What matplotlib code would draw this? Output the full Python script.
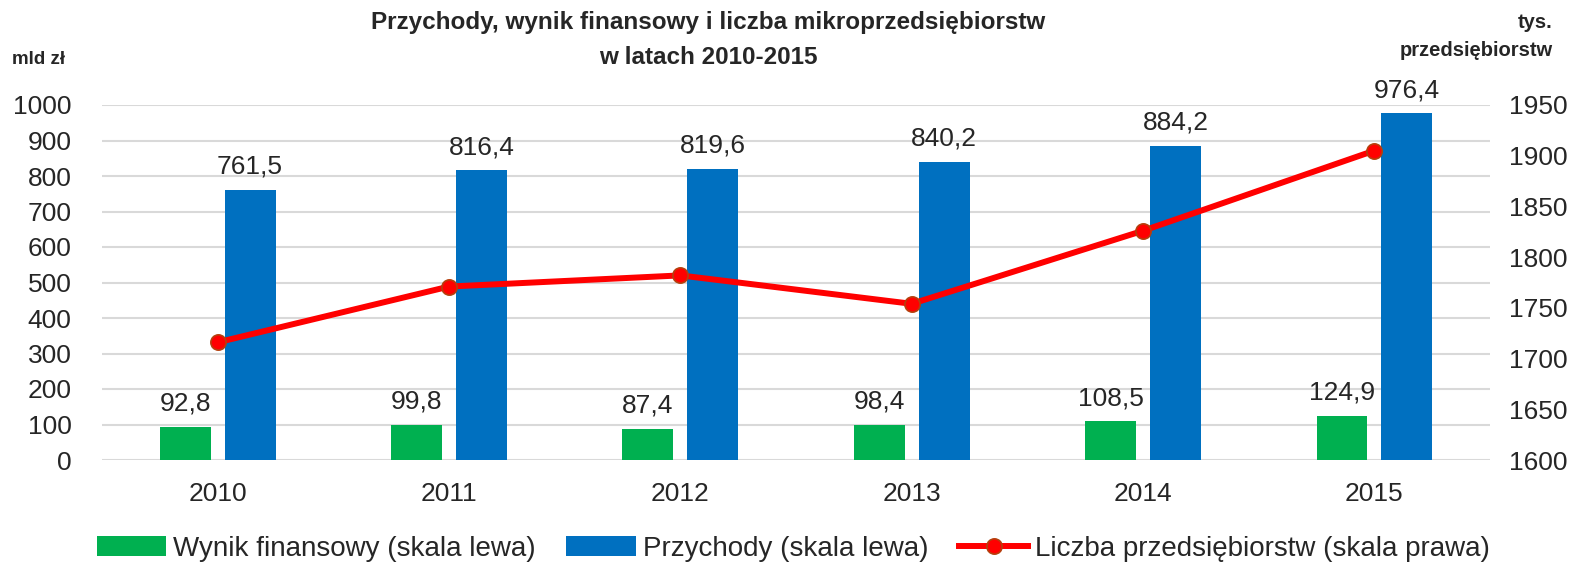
import numpy as np
import matplotlib.pyplot as plt

plt.rcParams['font.family'] = ['Liberation Sans', 'DejaVu Sans']

years = ["2010", "2011", "2012", "2013", "2014", "2015"]
wynik = [92.8, 99.8, 87.4, 98.4, 108.5, 124.9]
przychody = [761.5, 816.4, 819.6, 840.2, 884.2, 976.4]
liczba = [1716, 1771, 1782, 1754, 1826, 1905]

green = "#00b050"
blue = "#0070c0"
txt = "#262626"

fig = plt.figure(figsize=(15.87, 5.64), dpi=100)
ax = fig.add_axes([102 / 1587, 1 - 460 / 564, (1490 - 102) / 1587, (460 - 105) / 564])
ax2 = ax.twinx()

x = np.arange(len(years))
w = 0.22
b1 = ax.bar(x - 0.14, wynik, w, color=green, label="Wynik finansowy (skala lewa)", zorder=2)
b2 = ax.bar(x + 0.14, przychody, w, color=blue, label="Przychody (skala lewa)", zorder=2)

for rect, v in list(zip(b1, wynik)) + list(zip(b2, przychody)):
    ax.annotate(f"{v:.1f}".replace(".", ","),
                (rect.get_x() + rect.get_width() / 2, rect.get_height()),
                xytext=(0, 8), textcoords="offset points",
                ha="center", va="bottom", fontsize=19, color=txt, clip_on=False)

ln, = ax2.plot(x, liczba, color="#ff0000", lw=4.3, marker="o", ms=11,
               mfc="#ff0000", mec="#b5400e", mew=1.2,
               label="Liczba przedsiębiorstw (skala prawa)", zorder=3)

ax.set_xlim(-0.5, len(years) - 0.5)
ax.set_ylim(0, 1000)
ax.set_yticks(np.arange(0, 1001, 100))
ax2.set_ylim(1600, 1950)
ax2.set_yticks(np.arange(1600, 1951, 50))
ax.set_xticks(x)
ax.set_xticklabels(years)

ax.grid(axis="y", color="#d9d9d9", lw=1.5, zorder=0)
ax.set_axisbelow(True)
for a in (ax, ax2):
    for s in a.spines.values():
        s.set_visible(False)
ax.tick_params(axis="y", length=0, pad=22, labelsize=19, labelcolor=txt)
ax.tick_params(axis="x", length=0, pad=16, labelsize=19, labelcolor=txt)
ax2.tick_params(axis="y", length=0, pad=14, labelsize=19, labelcolor=txt)

fig.text(708 / 1587, 1 - 23 / 564, "Przychody, wynik finansowy i liczba mikroprzedsiębiorstw",
         ha="center", va="center", fontsize=17.5, fontweight="bold", color=txt)
fig.text(708 / 1587, 1 - 57 / 564, "w latach 2010-2015",
         ha="center", va="center", fontsize=17.5, fontweight="bold", color=txt)
fig.text(12 / 1587, 1 - 60 / 564, "mld zł", ha="left", va="center",
         fontsize=13.5, fontweight="bold", color=txt)
fig.text(1553 / 1587, 1 - 22 / 564, "tys.", ha="right", va="center",
         fontsize=14.5, fontweight="bold", color=txt)
fig.text(1553 / 1587, 1 - 51 / 564, "przedsiębiorstw", ha="right", va="center",
         fontsize=14.5, fontweight="bold", color=txt)

fig.legend(handles=[b1, b2, ln], loc="center", bbox_to_anchor=(0.5, 1 - 549 / 564),
           ncol=3, frameon=False, fontsize=20, handlelength=2.5, handleheight=0.75,
           columnspacing=1.1, handletextpad=0.25, labelcolor=txt)

fig.savefig("out.png", dpi=100)
